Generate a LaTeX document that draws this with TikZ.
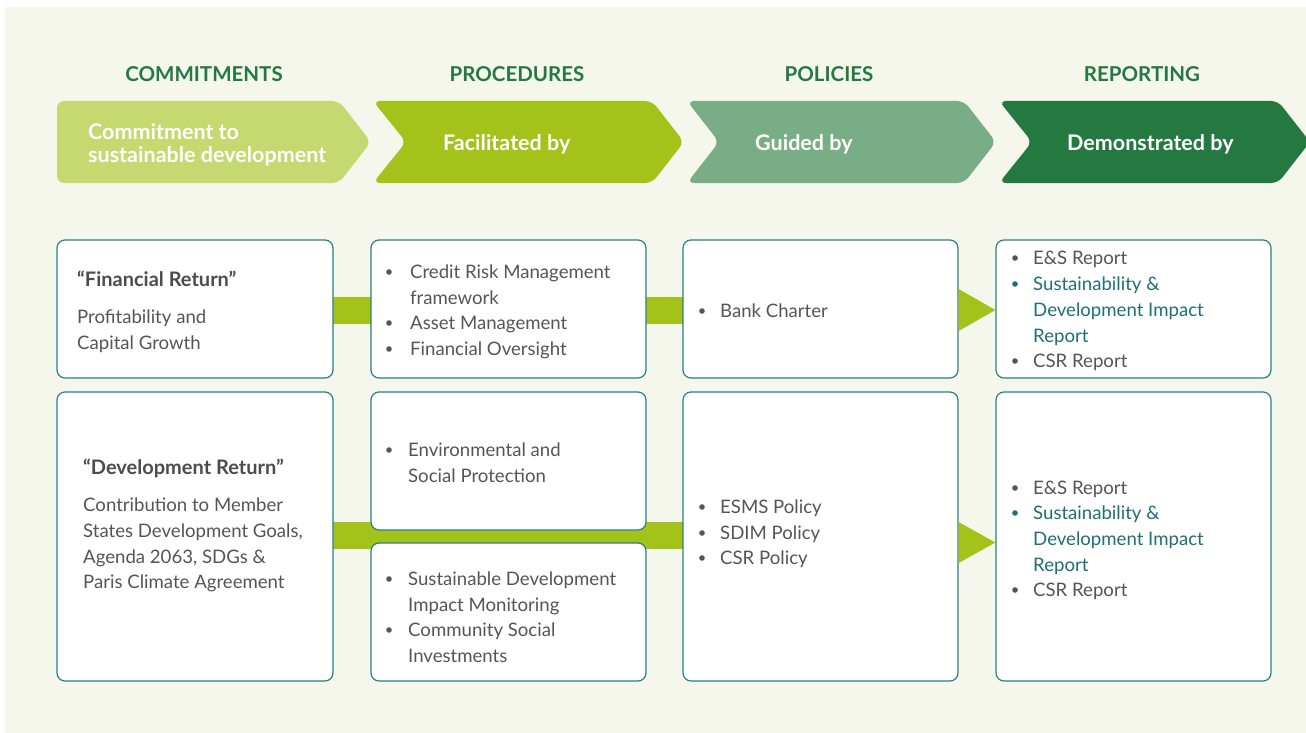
\documentclass[tikz,border=0pt]{standalone}
\usepackage{fontspec}
\setmainfont{Lato}
\usetikzlibrary{backgrounds}

\definecolor{cream}{HTML}{F5F7EC}
\definecolor{limelight}{HTML}{C6D970}
\definecolor{limedeep}{HTML}{A3C21A}
\definecolor{sage}{HTML}{79AD86}
\definecolor{forest}{HTML}{247941}
\definecolor{cardline}{HTML}{2B7F85}
\definecolor{bodytext}{HTML}{555555}
\definecolor{tealtext}{HTML}{1E6F76}

\tikzset{
  head/.style={font=\fontsize{20.5}{24}\selectfont\bfseries, text=forest, inner sep=0},
  chevlabel/.style={anchor=mid west, font=\fontsize{21.5}{25}\selectfont\bfseries, text=white, inner sep=0},
  card/.style={draw=cardline, line width=1.2pt, fill=white, rounded corners=8pt, inner sep=0},
  line/.style={anchor=mid west, font=\fontsize{18.6}{22}\selectfont, text=bodytext, inner sep=0},
  tline/.style={line, text=tealtext},
  title/.style={anchor=mid west, font=\fontsize{20}{24}\selectfont\bfseries, text=bodytext!90!black, inner sep=0},
  dot/.style={circle, fill=bodytext, minimum size=5.6pt, inner sep=0},
  tdot/.style={dot, fill=tealtext},
  bar/.style={draw=limedeep, line width=27pt},
  pointer/.style={fill=limedeep},
}

\begin{document}
\begin{tikzpicture}[x=1pt, y=-1pt]
\useasboundingbox (0,0) rectangle (1306,733);

% column headings
\node[head] (h1) at (204,74) {COMMITMENTS};
\node[head] (h2) at (517,74) {PROCEDURES};
\node[head] (h3) at (829,74) {POLICIES};
\node[head] (h4) at (1142,74) {REPORTING};

% chevron band
\fill[limelight, rounded corners=7pt] (57,101) -- (339,101) -- (371,142) -- (339,183) -- (57,183) -- cycle;
\fill[limedeep, rounded corners=7pt] (373,101) -- (652,101) -- (684,142) -- (652,183) -- (373,183) -- (406,142) -- cycle;
\fill[sage, rounded corners=7pt] (687,101) -- (964,101) -- (996,142) -- (964,183) -- (687,183) -- (719,142) -- cycle;
\fill[forest, rounded corners=7pt] (999,101) -- (1278,101) -- (1310,142) -- (1278,183) -- (999,183) -- (1032,142) -- cycle;

\node[chevlabel] (c1a) at (88,137) {Commitment to};
\node[chevlabel] (c1b) at (88,160) {sustainable development};
\node[chevlabel] (c2) at (443,148) {Facilitated by};
\node[chevlabel] (c3) at (755,148) {Guided by};
\node[chevlabel] (c4) at (1067,148) {Demonstrated by};

% cards, first row
\node[card, minimum width=276pt, minimum height=138pt] (b11) at (195,309) {};
\node[card, minimum width=275pt, minimum height=138pt] (b12) at (508.5,309) {};
\node[card, minimum width=275pt, minimum height=138pt] (b13) at (820.5,309) {};
\node[card, minimum width=275pt, minimum height=138pt] (b14) at (1133.5,309) {};

% cards, second row
\node[card, minimum width=276pt, minimum height=289pt] (b21) at (195,536.5) {};
\node[card, minimum width=275pt, minimum height=138pt] (b22a) at (508.5,461) {};
\node[card, minimum width=275pt, minimum height=138pt] (b22b) at (508.5,612) {};
\node[card, minimum width=275pt, minimum height=289pt] (b23) at (820.5,536.5) {};
\node[card, minimum width=275pt, minimum height=289pt] (b24) at (1133.5,536.5) {};

% connectors behind the cards
\begin{scope}[on background layer]
  \fill[white] (0,0) rectangle (1306,733);
  \fill[cream] (5,7) rectangle (1306,733);
  \draw[bar] ([yshift=-1.5pt]b11.center) -- ([yshift=-1.5pt]b13.center);
  \draw[bar] ([yshift=1pt]b21.center) -- ([yshift=1pt]b23.center);
\end{scope}
\fill[pointer] ([yshift=20pt]b13.east) -- ([yshift=-1pt]b14.west) -- ([yshift=-22pt]b13.east) -- cycle;
\fill[pointer] ([yshift=14.5pt]b23.east) -- ([yshift=-6pt]b24.west) -- ([yshift=-26.5pt]b23.east) -- cycle;

% texts, first row
\node[title] (t11a) at (77,284) {“Financial Return”};
\node[line] (t11b) at (77,321) {Profitability and};
\node[line] (t11c) at (77,347) {Capital Growth};

\node[dot] (d12a) at (389,272) {};
\node[line] (t12a) at (410,276) {Credit Risk Management};
\node[line] (t12b) at (410,302) {framework};
\node[dot] (d12c) at (389,323) {};
\node[line] (t12c) at (410,327) {Asset Management};
\node[dot] (d12d) at (389,349) {};
\node[line] (t12d) at (410,353) {Financial Oversight};

\node[dot] (d13a) at (702,311) {};
\node[line] (t13a) at (720,315) {Bank Charter};

\node[dot] (d14a) at (1015,258) {};
\node[line] (t14a) at (1033,262) {E\&S Report};
\node[tdot] (d14b) at (1015,284) {};
\node[tline] (t14b) at (1033,288) {Sustainability \&};
\node[tline] (t14c) at (1033,314) {Development Impact};
\node[tline] (t14d) at (1033,340) {Report};
\node[dot] (d14e) at (1015,361) {};
\node[line] (t14e) at (1033,365) {CSR Report};

% texts, second row
\node[title] (t21a) at (83,472) {“Development Return”};
\node[line] (t21b) at (83,509) {Contribution to Member};
\node[line] (t21c) at (83,535) {States Development Goals,};
\node[line] (t21d) at (83,561) {Agenda 2063, SDGs \&};
\node[line] (t21e) at (83,586) {Paris Climate Agreement};

\node[dot] (d22a) at (389,450) {};
\node[line] (t22a) at (408,454) {Environmental and};
\node[line] (t22b) at (408,480) {Social Protection};

\node[dot] (d22c) at (389,579) {};
\node[line] (t22c) at (408,583) {Sustainable Development};
\node[line] (t22d) at (408,609) {Impact Monitoring};
\node[dot] (d22e) at (389,630) {};
\node[line] (t22e) at (408,634) {Community Social};
\node[line] (t22f) at (408,660) {Investments};

\node[dot] (d23a) at (702,507) {};
\node[line] (t23a) at (720,511) {ESMS Policy};
\node[dot] (d23b) at (702,533) {};
\node[line] (t23b) at (720,537) {SDIM Policy};
\node[dot] (d23c) at (702,558) {};
\node[line] (t23c) at (720,562) {CSR Policy};

\node[dot] (d24a) at (1015,488) {};
\node[line] (t24a) at (1033,492) {E\&S Report};
\node[tdot] (d24b) at (1015,513) {};
\node[tline] (t24b) at (1033,517) {Sustainability \&};
\node[tline] (t24c) at (1033,543) {Development Impact};
\node[tline] (t24d) at (1033,569) {Report};
\node[dot] (d24e) at (1015,590) {};
\node[line] (t24e) at (1033,594) {CSR Report};
\end{tikzpicture}
\end{document}
